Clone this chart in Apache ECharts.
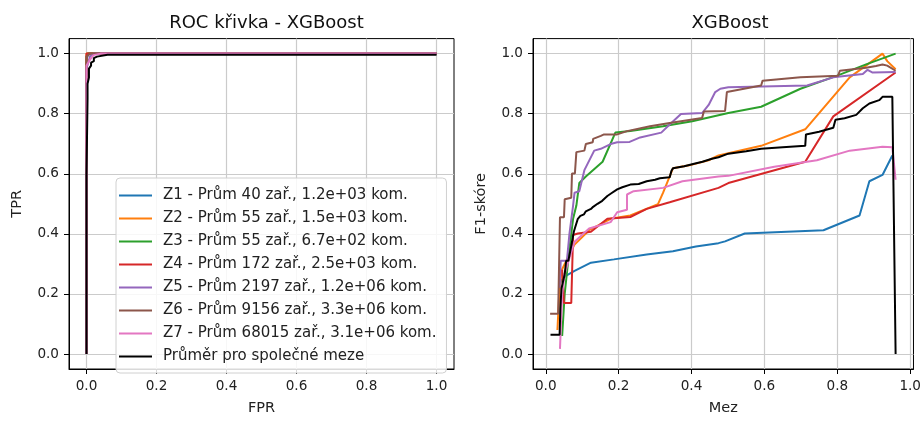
<!DOCTYPE html>
<html><head><meta charset="utf-8">
<script src="https://cdn.jsdelivr.net/npm/echarts@6/dist/echarts.min.js"></script>
<style>html,body{margin:0;padding:0;background:#fff}#c{width:924px;height:421px}</style>
</head><body><div id="c"></div>
<script>
// ---- data ----
const seriesNames = [
  'Z1 - Prům 40 zař., 1.2e+03 kom.',
  'Z2 - Prům 55 zař., 1.5e+03 kom.',
  'Z3 - Prům 55 zař., 6.7e+02 kom.',
  'Z4 - Prům 172 zař., 2.5e+03 kom.',
  'Z5 - Prům 2197 zař., 1.2e+06 kom.',
  'Z6 - Prům 9156 zař., 3.3e+06 kom.',
  'Z7 - Prům 68015 zař., 3.1e+06 kom.',
  'Průměr pro společné meze'
];
const tickValues = [0, 0.2, 0.4, 0.6, 0.8, 1.0];

// ROC curves [FPR, TPR]
const rocZ1 = [[0,0],[0,0.98],[0.005,1],[1,1]];
const rocZ2 = [[0,0],[0,1],[1,1]];
const rocZ3 = [[0,0],[0,0.99],[0.003,1],[1,1]];
const rocZ4 = [[0,0],[0,1],[1,1]];
const rocZ5 = [[0,0],[0,0.95],[0.005,0.97],[0.01,0.99],[0.02,1],[1,1]];
const rocZ6 = [[0,0],[0,0.99],[0.01,1],[1,1]];
const rocZ7 = [[0,0],[0,0.96],[0.01,0.98],[0.02,0.995],[0.04,1],[1,1]];
const rocAvg = [[0,0],[0,0.6],[0.003,0.85],[0.003,0.9],[0.007,0.92],[0.007,0.95],[0.013,0.96],[0.013,0.97],[0.021,0.975],[0.021,0.985],[0.03,0.99],[0.06,0.996],[1,0.996]];

// F1 vs threshold [Mez, F1]
const f1Z1 = [[0.039,0.234],[0.043,0.245],[0.055,0.26],[0.079,0.277],[0.124,0.304],[0.187,0.315],[0.277,0.331],[0.349,0.342],[0.412,0.358],[0.474,0.369],[0.492,0.375],[0.546,0.401],[0.762,0.412],[0.861,0.461],[0.888,0.575],[0.924,0.596],[0.951,0.661]];
const f1Z2 = [[0.032,0.08],[0.037,0.2],[0.043,0.277],[0.06,0.32],[0.079,0.364],[0.119,0.412],[0.178,0.45],[0.232,0.461],[0.308,0.499],[0.322,0.537],[0.349,0.618],[0.394,0.628],[0.447,0.645],[0.474,0.661],[0.591,0.693],[0.712,0.748],[0.834,0.921],[0.924,1.0],[0.937,0.975],[0.96,0.948]];
const f1Z3 = [[0.045,0.06],[0.052,0.2],[0.065,0.35],[0.075,0.45],[0.084,0.494],[0.092,0.569],[0.11,0.591],[0.156,0.64],[0.191,0.737],[0.232,0.742],[0.322,0.758],[0.402,0.775],[0.501,0.802],[0.591,0.823],[0.699,0.883],[0.798,0.926],[0.879,0.964],[0.96,1.0]];
const f1Z4 = [[0.045,0.28],[0.05,0.17],[0.07,0.17],[0.075,0.396],[0.088,0.401],[0.124,0.407],[0.169,0.45],[0.232,0.456],[0.277,0.483],[0.34,0.505],[0.474,0.553],[0.501,0.569],[0.712,0.64],[0.789,0.791],[0.96,0.937]];
const f1Z5 = [[0.038,0.22],[0.041,0.31],[0.058,0.31],[0.065,0.4],[0.075,0.494],[0.079,0.537],[0.092,0.542],[0.106,0.612],[0.133,0.677],[0.151,0.683],[0.178,0.699],[0.196,0.705],[0.23,0.706],[0.259,0.721],[0.317,0.737],[0.34,0.764],[0.371,0.799],[0.429,0.802],[0.447,0.829],[0.465,0.872],[0.479,0.883],[0.501,0.888],[0.717,0.894],[0.789,0.921],[0.87,0.932],[0.883,0.946],[0.897,0.937],[0.96,0.939]];
const f1Z6 = [[0.012,0.134],[0.034,0.134],[0.039,0.455],[0.05,0.455],[0.052,0.515],[0.07,0.52],[0.072,0.601],[0.08,0.601],[0.084,0.672],[0.106,0.677],[0.11,0.699],[0.129,0.705],[0.13,0.716],[0.151,0.726],[0.16,0.731],[0.196,0.731],[0.223,0.742],[0.286,0.758],[0.34,0.769],[0.429,0.786],[0.434,0.807],[0.492,0.809],[0.497,0.872],[0.591,0.894],[0.595,0.91],[0.699,0.921],[0.802,0.926],[0.807,0.943],[0.879,0.953],[0.906,0.959],[0.924,0.964],[0.937,0.96],[0.96,0.943]];
const f1Z7 = [[0.039,0.017],[0.045,0.2],[0.052,0.266],[0.06,0.3],[0.079,0.374],[0.119,0.418],[0.178,0.439],[0.196,0.472],[0.223,0.48],[0.223,0.531],[0.241,0.542],[0.322,0.553],[0.375,0.575],[0.474,0.591],[0.501,0.593],[0.627,0.623],[0.744,0.645],[0.834,0.677],[0.924,0.69],[0.951,0.688],[0.96,0.58]];
const f1Avg = [[0.013,0.064],[0.038,0.064],[0.04,0.15],[0.043,0.217],[0.046,0.22],[0.052,0.266],[0.056,0.31],[0.062,0.31],[0.07,0.36],[0.077,0.407],[0.088,0.45],[0.095,0.46],[0.105,0.465],[0.11,0.475],[0.124,0.483],[0.13,0.49],[0.142,0.5],[0.155,0.51],[0.169,0.526],[0.18,0.535],[0.196,0.548],[0.21,0.555],[0.232,0.564],[0.255,0.566],[0.277,0.575],[0.3,0.58],[0.313,0.585],[0.34,0.588],[0.345,0.61],[0.349,0.618],[0.38,0.625],[0.41,0.634],[0.43,0.64],[0.456,0.65],[0.474,0.655],[0.501,0.667],[0.55,0.675],[0.591,0.683],[0.65,0.688],[0.712,0.693],[0.714,0.731],[0.75,0.74],[0.789,0.753],[0.795,0.78],[0.82,0.785],[0.852,0.796],[0.87,0.818],[0.888,0.834],[0.915,0.845],[0.924,0.856],[0.951,0.856],[0.955,0.85],[0.96,0.0]];

const rocData = [rocZ1, rocZ2, rocZ3, rocZ4, rocZ5, rocZ6, rocZ7, rocAvg];
const f1Data = [f1Z1, f1Z2, f1Z3, f1Z4, f1Z5, f1Z6, f1Z7, f1Avg];
const colors = ['#1f77b4','#ff7f0e','#2ca02c','#d62728','#9467bd','#8c564b','#e377c2','#000000'];

// ---- chart ----
const FONT = 'DejaVu Sans';
const chart = echarts.init(document.getElementById('c'), null, {renderer: 'canvas'});

function xAx(gi, min, max, name) {
  return {
    type: 'value', gridIndex: gi, min: min, max: max, name: name,
    nameLocation: 'middle', nameGap: 32,
    nameTextStyle: {fontFamily: FONT, fontSize: 14.5, color: '#222'},
    axisLine: {show: true, onZero: false, lineStyle: {color: '#000', width: 1}},
    axisTick: {show: true, inside: false, length: 5, customValues: tickValues, lineStyle: {color: '#000'}},
    axisLabel: {customValues: tickValues, formatter: v => v.toFixed(1), margin: 10,
      fontFamily: FONT, fontSize: 13.6, color: '#222'},
    splitLine: {show: true, lineStyle: {color: '#cbcbcb', width: 1.2}}
  };
}
function yAx(gi, name) {
  return {
    type: 'value', gridIndex: gi, min: -0.05, max: 1.05, name: name,
    nameLocation: 'middle', nameGap: 44,
    nameTextStyle: {fontFamily: FONT, fontSize: 14.5, color: '#222'},
    axisLine: {show: true, onZero: false, lineStyle: {color: '#000', width: 1}},
    axisTick: {show: true, inside: false, length: 5, customValues: tickValues, lineStyle: {color: '#000'}},
    axisLabel: {customValues: tickValues, formatter: v => v.toFixed(1), margin: 10,
      fontFamily: FONT, fontSize: 13.6, color: '#222'},
    splitLine: {show: true, lineStyle: {color: '#cbcbcb', width: 1.2}}
  };
}

const series = [];
rocData.forEach((d, i) => series.push({
  name: seriesNames[i], type: 'line', xAxisIndex: 0, yAxisIndex: 0, data: d,
  symbol: 'none', color: colors[i], lineStyle: {width: 2, color: colors[i]}, animation: false, z: 2 + i
}));
f1Data.forEach((d, i) => series.push({
  name: seriesNames[i], type: 'line', xAxisIndex: 1, yAxisIndex: 1, data: d,
  symbol: 'none', color: colors[i], lineStyle: {width: 2, color: colors[i]}, animation: false, z: 2 + i
}));

chart.setOption({
  animation: false,
  backgroundColor: '#fff',
  title: [
    {text: 'ROC křivka - XGBoost', left: 261.5, top: 9, textAlign: 'center',
     textStyle: {fontFamily: FONT, fontSize: 18, fontWeight: 'normal', color: '#111'}},
    {text: 'XGBoost', left: 725, top: 9, textAlign: 'center',
     textStyle: {fontFamily: FONT, fontSize: 18, fontWeight: 'normal', color: '#111'}}
  ],
  grid: [
    {left: 69, top: 38.6, width: 385, height: 338.4, show: true, borderColor: '#000', borderWidth: 1, containLabel: false},
    {left: 533, top: 38.6, width: 384, height: 338.4, show: true, borderColor: '#000', borderWidth: 1, containLabel: false}
  ],
  xAxis: [xAx(0, -0.05, 1.05, 'FPR'), xAx(1, -0.035, 1.009, 'Mez')],
  yAxis: [yAx(0, 'TPR'), yAx(1, 'F1-skóre')],
  legend: {
    show: true, data: seriesNames, orient: 'vertical', left: 116, top: 178,
    icon: 'rect', itemWidth: 33, itemHeight: 2.2, itemGap: 6,
    padding: [9, 10, 8, 3],
    backgroundColor: 'rgba(255,255,255,0.85)', borderColor: '#d0d0d0', borderWidth: 1, borderRadius: 4,
    textStyle: {fontFamily: FONT, fontSize: 15, color: '#222', padding: [0, 0, 0, 6], lineHeight: 17},
    selectedMode: false
  },
  series: series
});
</script></body></html>
